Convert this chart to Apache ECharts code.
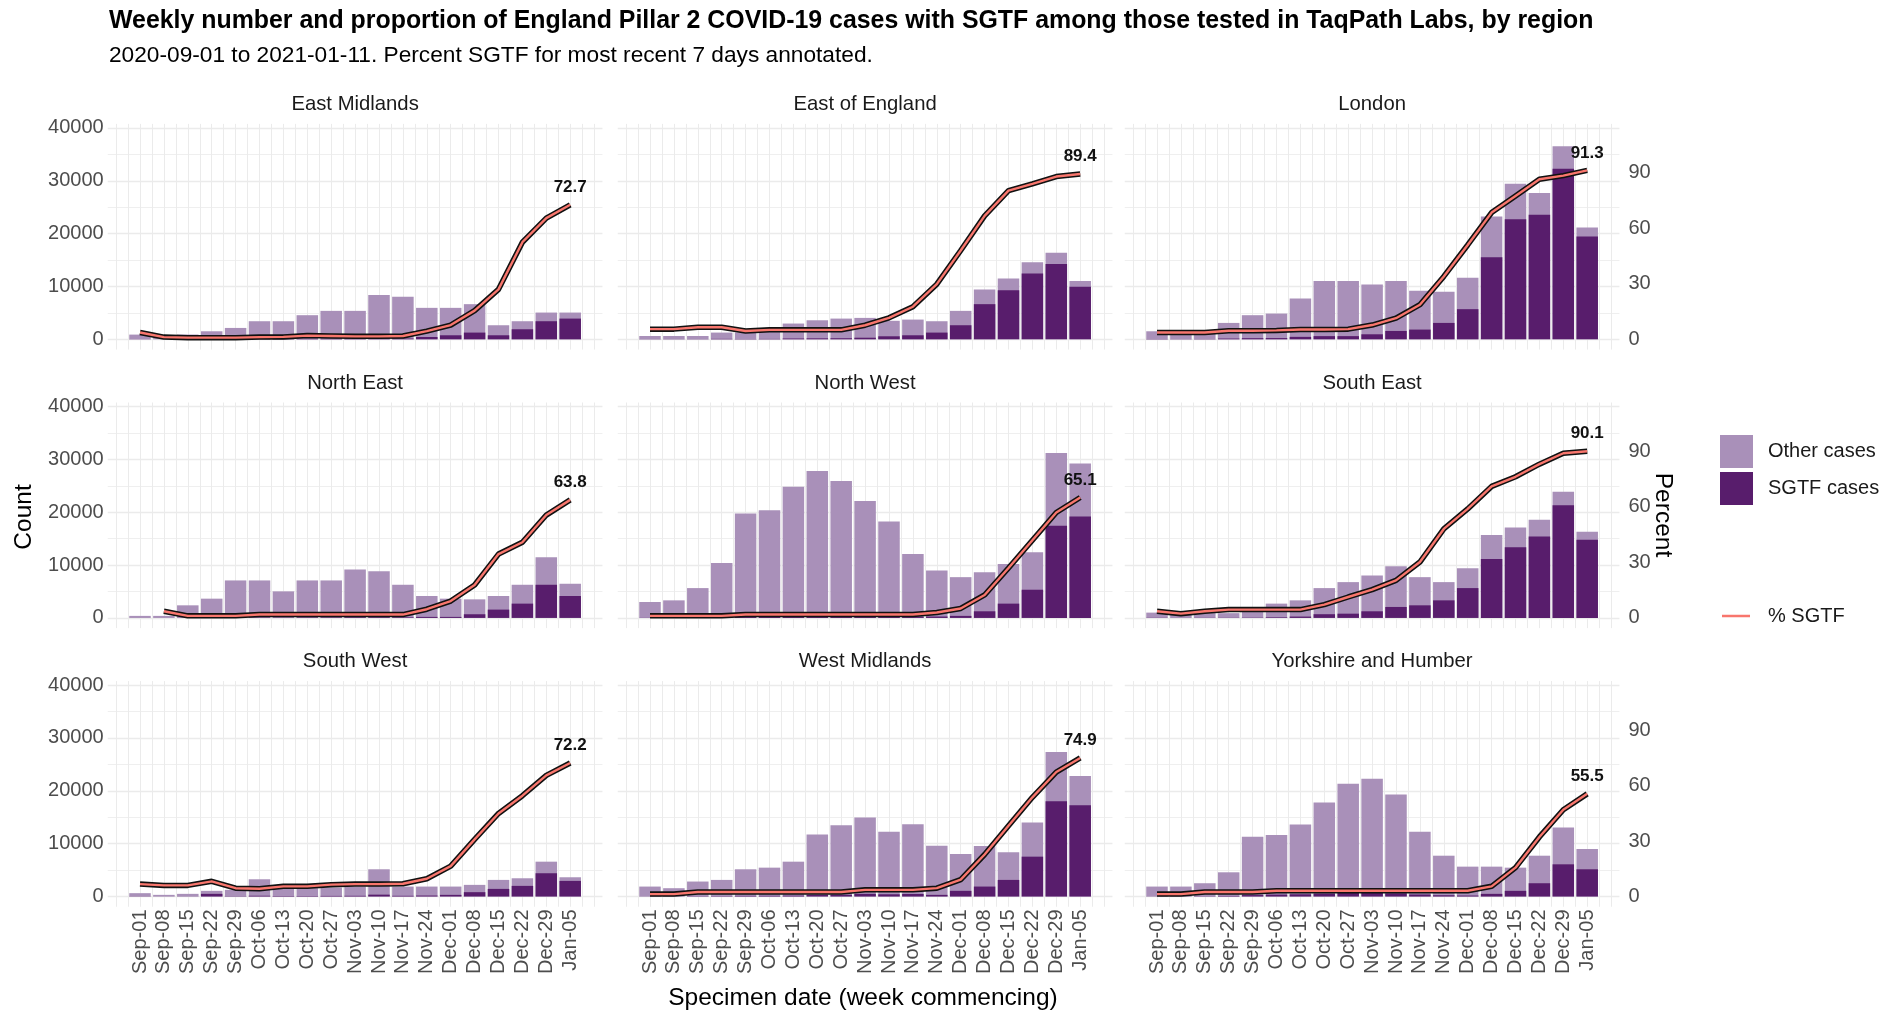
<!DOCTYPE html>
<html>
<head>
<meta charset="utf-8">
<title>SGTF cases by region</title>
<script src="https://cdn.jsdelivr.net/npm/echarts@6/dist/echarts.min.js"></script>
<style>
  html, body { margin: 0; padding: 0; background: #ffffff; }
  #chart { width: 1903px; height: 1012px; }
</style>
</head>
<body>
<div id="chart"></div>
<script>
// ---- data ---------------------------------------------------------------
const weeks = ['Sep-01', 'Sep-08', 'Sep-15', 'Sep-22', 'Sep-29', 'Oct-06', 'Oct-13',
  'Oct-20', 'Oct-27', 'Nov-03', 'Nov-10', 'Nov-17', 'Nov-24', 'Dec-01', 'Dec-08',
  'Dec-15', 'Dec-22', 'Dec-29', 'Jan-05'];

const regions = ['East Midlands', 'East of England', 'London', 'North East', 'North West',
  'South East', 'South West', 'West Midlands', 'Yorkshire and Humber'];

// weekly SGTF cases, other cases, and 7-day % SGTF per region
const sgtfEastMidlands  = [30, 5, 8, 14, 19, 41, 44, 91, 97, 86, 134, 145, 440, 760, 1270, 760, 1900, 3420, 3920];
const otherEastMidlands = [860, 495, 892, 1506, 2131, 3379, 3376, 4469, 5283, 5294, 8226, 7895, 5510, 5190, 5380, 1900, 1520, 1640, 1140];
const pctEastMidlands   = [3.7, 1.2, 0.9, 0.9, 0.9, 1.2, 1.3, 2.0, 1.8, 1.6, 1.6, 1.8, 4.4, 7.7, 15.5, 27.0, 52.5, 65.5, 72.7];

const sgtfEastOfEngland  = [35, 35, 40, 80, 60, 70, 150, 180, 200, 300, 570, 760, 1270, 2660, 6650, 9300, 12470, 14240, 9940];
const otherEastOfEngland = [595, 595, 590, 1190, 1240, 1330, 2830, 3420, 3720, 3750, 2930, 2970, 2150, 2720, 2780, 2220, 2090, 2160, 1070];
const pctEastOfEngland   = [5.5, 5.5, 6.5, 6.5, 4.5, 5.1, 5.1, 5.1, 5.1, 7.6, 11.6, 17.6, 29.8, 48.0, 66.7, 80.4, 84.0, 88.0, 89.4];

const sgtfLondon  = [55, 40, 50, 140, 210, 230, 460, 600, 600, 950, 1580, 1840, 3100, 5700, 15510, 22720, 23550, 32280, 19430];
const otherLondon = [1465, 1060, 1250, 2960, 4350, 4640, 7260, 10410, 10410, 9430, 9430, 7340, 5890, 5950, 7720, 6710, 4110, 4240, 1710];
const pctLondon   = [3.7, 3.7, 3.7, 4.6, 4.6, 4.8, 5.3, 5.3, 5.5, 7.7, 11.4, 18.7, 34.0, 51.0, 68.5, 77.5, 86.5, 88.5, 91.3];

const sgtfNorthEast  = [10, 10, 30, 40, 80, 80, 60, 100, 100, 130, 130, 120, 190, 190, 690, 1570, 2700, 6270, 4140];
const otherNorthEast = [370, 370, 2350, 3600, 7010, 7010, 4960, 6990, 6990, 9020, 8710, 6150, 3950, 3450, 2820, 2570, 3570, 5200, 2320];
const pctNorthEast   = [null, 3.6, 1.1, 1.1, 1.1, 1.8, 1.8, 1.8, 1.8, 1.8, 1.8, 1.8, 4.7, 9.1, 17.8, 34.5, 40.9, 55.6, 63.8];

const sgtfNorthWest  = [30, 35, 60, 110, 350, 370, 450, 500, 470, 400, 330, 220, 260, 380, 1250, 2700, 5330, 17430, 19190];
const otherNorthWest = [2980, 3285, 5580, 10300, 19400, 20010, 24380, 27280, 25430, 21730, 17920, 11880, 8710, 7330, 7400, 7520, 7080, 13790, 10030];
const pctNorthWest   = [1.1, 1.1, 1.1, 1.1, 1.8, 1.8, 1.8, 1.8, 1.8, 1.8, 1.8, 1.8, 2.9, 5.1, 12.4, 27.0, 42.0, 57.0, 65.1];

const sgtfSouthEast  = [40, 20, 35, 40, 60, 120, 250, 700, 800, 1250, 2070, 2380, 3320, 5640, 11160, 13360, 15420, 21320, 14800];
const otherSouthEast = [960, 780, 865, 860, 1240, 2580, 3070, 4940, 5970, 6780, 7710, 5330, 3450, 3760, 4520, 3760, 3140, 2570, 1500];
const pctSouthEast   = [3.6, 2.3, 3.6, 4.5, 4.5, 4.5, 4.5, 7.2, 11.3, 15.3, 20.3, 30.2, 48.1, 58.9, 71.1, 76.3, 83.1, 89.0, 90.1];

const sgtfSouthWest  = [40, 20, 30, 500, 60, 140, 90, 90, 110, 130, 350, 130, 180, 310, 820, 1440, 2010, 4400, 2950];
const otherSouthWest = [590, 290, 470, 570, 1200, 3120, 1480, 1480, 1590, 1750, 4800, 1750, 1700, 1570, 1380, 1700, 1440, 2190, 690];
const pctSouthWest   = [6.7, 6.0, 6.0, 8.2, 4.5, 4.2, 5.5, 5.5, 6.4, 6.7, 6.7, 6.9, 9.6, 16.4, 30.9, 44.9, 54.5, 65.5, 72.2];

const sgtfWestMidlands  = [25, 20, 65, 75, 120, 130, 160, 280, 320, 500, 420, 480, 310, 1070, 1880, 3140, 7540, 18020, 17270];
const otherWestMidlands = [1855, 1550, 2765, 3065, 5030, 5330, 6430, 11460, 13180, 14450, 11830, 13210, 9300, 6970, 7670, 5210, 6460, 9300, 5530];
const pctWestMidlands   = [1.3, 1.3, 2.4, 2.4, 2.4, 2.4, 2.4, 2.4, 2.4, 3.6, 3.6, 3.6, 4.5, 9.1, 22.7, 38.2, 53.6, 67.3, 74.9];

const sgtfYorkshire  = [25, 25, 60, 110, 270, 360, 420, 550, 660, 690, 600, 380, 240, 180, 500, 1070, 2510, 6090, 5150];
const otherYorkshire = [1855, 1855, 2450, 4470, 11030, 11260, 13210, 17220, 20690, 21600, 18680, 11870, 7480, 5470, 5150, 4390, 5210, 6970, 3830];
const pctYorkshire   = [1.3, 1.3, 2.4, 2.4, 2.4, 3.1, 3.1, 3.1, 3.1, 3.1, 3.1, 3.1, 3.1, 3.1, 5.5, 15.6, 32.2, 46.9, 55.5];

const sgtfByRegion  = [sgtfEastMidlands, sgtfEastOfEngland, sgtfLondon, sgtfNorthEast, sgtfNorthWest, sgtfSouthEast, sgtfSouthWest, sgtfWestMidlands, sgtfYorkshire];
const otherByRegion = [otherEastMidlands, otherEastOfEngland, otherLondon, otherNorthEast, otherNorthWest, otherSouthEast, otherSouthWest, otherWestMidlands, otherYorkshire];
const pctByRegion   = [pctEastMidlands, pctEastOfEngland, pctLondon, pctNorthEast, pctNorthWest, pctSouthEast, pctSouthWest, pctWestMidlands, pctYorkshire];

const countTicks = [0, 10000, 20000, 30000, 40000];
const percentTicks = [0, 30, 60, 90];
const countPerPercent = 350;           // secondary axis: 1 % = 350 cases

// ---- layout & style -----------------------------------------------------
const FONT = '"Liberation Sans", Arial, Helvetica, sans-serif';
const COL_OTHER = '#a990b9';
const COL_SGTF = '#581d6c';
const COL_LINE = '#f8766d';
const GRID_COL = '#ebebeb';
const AXIS_TXT = '#4d4d4d';

const pitch = 23.9;                    // px per week
const firstX = [140, 650, 1157];       // centre of first week in each column
const zeroY = [339.3, 617.9, 896.5];   // y of the zero line in each row
const plotH = 211.4;                   // 0 .. 40000
const countMax = countTicks[countTicks.length - 1];
const countStep = countTicks[1];
const pctStep = percentTicks[1];

const grid = [], xAxis = [], yAxis = [], series = [], graphic = [];

regions.forEach((name, k) => {
  const col = k % 3, row = Math.floor(k / 3);
  const top = zeroY[row] - plotH;

  // plotting panel
  grid.push({ left: firstX[col] - 1.35 * pitch, width: 20.7 * pitch, top: top, height: plotH });

  xAxis.push({
    gridIndex: k, type: 'value', min: -1.35, max: 19.35,
    axisLine: { show: false }, axisTick: { show: false }, splitLine: { show: false },
    axisLabel: {
      show: row === 2, customValues: weeks.map((w, i) => i),
      formatter: v => weeks[Math.round(v)] || '',
      rotate: 90, margin: 13, fontSize: 20, color: AXIS_TXT, fontFamily: FONT
    }
  });
  yAxis.push({
    gridIndex: k, type: 'value', min: 0, max: countMax, interval: countStep,
    axisLine: { show: false }, axisTick: { show: false },
    axisLabel: { show: col === 0, margin: 4, fontSize: 20, color: AXIS_TXT, fontFamily: FONT,
      formatter: v => String(v) },
    splitLine: { show: true, lineStyle: { color: GRID_COL, width: 1.3 } },
    minorTick: { show: false, splitNumber: 2 },
    minorSplitLine: { show: true, lineStyle: { color: GRID_COL, width: 0.8 } }
  });

  const s = sgtfByRegion[k], o = otherByRegion[k], p = pctByRegion[k];
  // stacked bars: the full column (SGTF + other) behind, SGTF part in front
  series.push({
    name: 'Other cases', type: 'bar', xAxisIndex: k, yAxisIndex: k,
    barWidth: 0.9 * pitch, barGap: '-100%', itemStyle: { color: COL_OTHER }, z: 2,
    data: o.map((v, i) => [i, v + s[i]])
  });
  series.push({
    name: 'SGTF cases', type: 'bar', xAxisIndex: k, yAxisIndex: k,
    barWidth: 0.9 * pitch, barGap: '-100%', itemStyle: { color: COL_SGTF }, z: 3,
    data: s.map((v, i) => [i, v])
  });
  const last = p.length - 1;
  const pts = p.map((v, i) => [i, v]);
  series.push({
    name: '% SGTF outline', type: 'line', xAxisIndex: k, yAxisIndex: 9 + k,
    symbol: 'none', lineStyle: { color: '#111', width: 5.5 }, z: 5, silent: true,
    data: pts
  });
  series.push({
    name: '% SGTF', type: 'line', xAxisIndex: k, yAxisIndex: 9 + k,
    color: COL_LINE, symbol: 'circle', symbolSize: 0, showSymbol: true,
    lineStyle: { color: COL_LINE, width: 2.4 }, z: 6,
    label: {
      show: false, position: 'top', distance: 9, fontSize: 17, fontWeight: 'bold',
      color: '#111', fontFamily: FONT, formatter: d => d.value[1].toFixed(1)
    },
    data: pts.map((d, i) => i === last ? { value: d, label: { show: true } } : d)
  });

  // facet strip title
  graphic.push({
    type: 'text', x: firstX[col] + 9 * pitch, y: top - 23.5,
    style: { text: name, fill: '#1a1a1a', font: '20.3px ' + FONT, textAlign: 'center', textVerticalAlign: 'middle', verticalAlign: 'middle' }
  });
});

// secondary (percent) axes
regions.forEach((name, k) => {
  const col = k % 3;
  yAxis.push({
    gridIndex: k, type: 'value', position: 'right', min: 0, max: countMax / countPerPercent,
    interval: pctStep,
    axisLine: { show: false }, axisTick: { show: false }, splitLine: { show: false },
    axisLabel: {
      show: col === 2, margin: 9, fontSize: 20, color: AXIS_TXT, fontFamily: FONT,
      formatter: v => (percentTicks.indexOf(Math.round(v * 1000) / 1000) >= 0 ? String(v) : '')
    }
  });
});

// background panels carrying the weekly vertical grid lines
regions.forEach((name, k) => {
  const col = k % 3, row = Math.floor(k / 3);
  const top = zeroY[row] - plotH;
  grid.push({ left: firstX[col] - 1.5 * pitch, width: 21 * pitch, top: top - 4, height: plotH + 14.25 });
  xAxis.push({
    gridIndex: 9 + k, type: 'value', min: -1.5, max: 19.5, interval: 0.5,
    axisLine: { show: false }, axisTick: { show: false }, axisLabel: { show: false },
    splitLine: { show: true, showMinLine: false, showMaxLine: false, lineStyle: { color: GRID_COL, width: 1 } }
  });
  yAxis.push({ gridIndex: 9 + k, type: 'value', min: -1940, max: 40760, show: false });
});

// titles and axis titles
graphic.push(
  { type: 'text', x: 109, y: 21,
    style: { text: 'Weekly number and proportion of England Pillar 2 COVID-19 cases with SGTF among those tested in TaqPath Labs, by region',
      fill: '#000', font: 'bold 24.9px ' + FONT, textAlign: 'left', textVerticalAlign: 'middle', verticalAlign: 'middle' } },
  { type: 'text', x: 109, y: 56,
    style: { text: '2020-09-01 to 2021-01-11. Percent SGTF for most recent 7 days annotated.',
      fill: '#000', font: '22.7px ' + FONT, textAlign: 'left', textVerticalAlign: 'middle', verticalAlign: 'middle' } },
  { type: 'text', x: 24, y: 517, rotation: Math.PI / 2,
    style: { text: 'Count', fill: '#000', font: '24.5px ' + FONT, textAlign: 'center', textVerticalAlign: 'middle', verticalAlign: 'middle' } },
  { type: 'text', x: 1663, y: 515, rotation: -Math.PI / 2,
    style: { text: 'Percent', fill: '#000', font: '24.5px ' + FONT, textAlign: 'center', textVerticalAlign: 'middle', verticalAlign: 'middle' } },
  { type: 'text', x: 863, y: 998,
    style: { text: 'Specimen date (week commencing)', fill: '#000', font: '24.5px ' + FONT, textAlign: 'center', textVerticalAlign: 'middle', verticalAlign: 'middle' } }
);

const option = {
  animation: false,
  backgroundColor: '#ffffff',
  textStyle: { fontFamily: FONT },
  grid: grid, xAxis: xAxis, yAxis: yAxis, series: series, graphic: graphic,
  legend: [
    {
      data: ['Other cases', 'SGTF cases'], orient: 'vertical', left: 1720, top: 435,
      icon: 'rect', itemWidth: 33, itemHeight: 33, itemGap: 4, padding: 0,
      textStyle: { fontSize: 20, color: '#1a1a1a', fontFamily: FONT, padding: [0, 0, 0, 10] }
    },
    {
      data: [{ name: '% SGTF', icon: 'rect' }], orient: 'vertical', left: 1722, top: 604,
      itemWidth: 28, itemHeight: 2.5, padding: 0,
      textStyle: { fontSize: 20, color: '#1a1a1a', fontFamily: FONT, lineHeight: 24, padding: [0, 0, 0, 13] }
    }
  ]
};

const chart = echarts.init(document.getElementById('chart'), null, { renderer: 'canvas' });
chart.setOption(option);
</script>
</body>
</html>
